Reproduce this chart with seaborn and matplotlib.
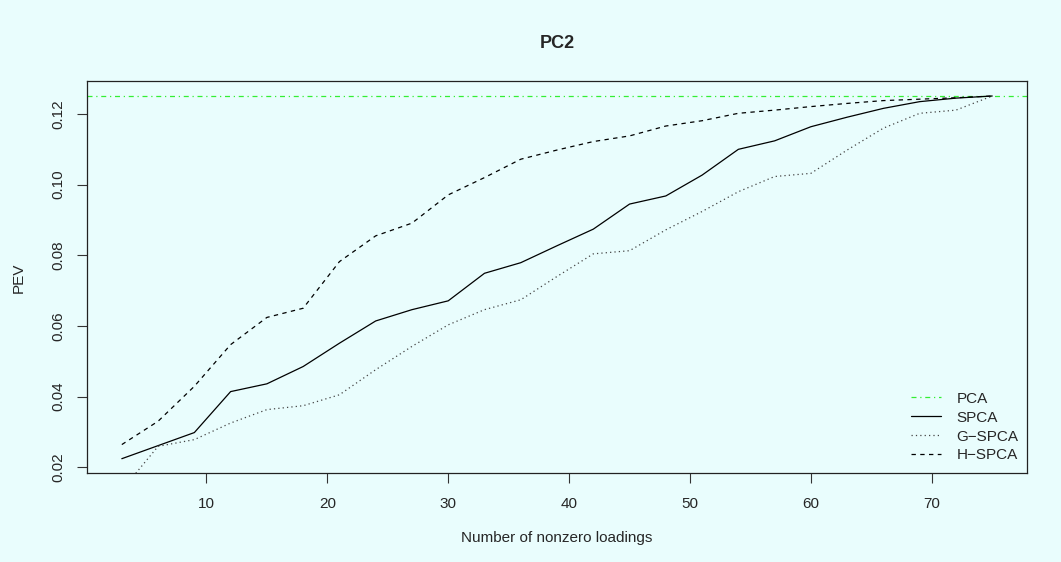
import matplotlib
matplotlib.use("Agg")
import matplotlib.pyplot as plt
import seaborn as sns
import pandas as pd

# number of nonzero loadings
loadings = list(range(3, 76, 3))

# proportion of explained variance per method
pca_pev = 0.125
spca = [0.0224, 0.0261, 0.0298, 0.0414, 0.0436, 0.0485, 0.0551, 0.0614, 0.0646,
        0.0671, 0.0749, 0.0779, 0.0827, 0.0874, 0.0945, 0.0968, 0.1027, 0.1100,
        0.1124, 0.1164, 0.1191, 0.1216, 0.1235, 0.1245, 0.1251]
gspca = [0.0135, 0.0259, 0.0278, 0.0325, 0.0363, 0.0374, 0.0405, 0.0476, 0.0542,
         0.0603, 0.0646, 0.0674, 0.0740, 0.0804, 0.0813, 0.0872, 0.0924, 0.0980,
         0.1023, 0.1032, 0.1098, 0.1160, 0.1202, 0.1211, 0.1251]
hspca = [0.0264, 0.0330, 0.0429, 0.0547, 0.0624, 0.0650, 0.0782, 0.0855, 0.0891,
         0.0971, 0.1020, 0.1072, 0.1098, 0.1122, 0.1138, 0.1166, 0.1181, 0.1202,
         0.1211, 0.1221, 0.1230, 0.1238, 0.1242, 0.1246, 0.1251]

yticks = [0.02, 0.04, 0.06, 0.08, 0.10, 0.12]
xticks = [10, 20, 30, 40, 50, 60, 70]

sns.set_style("ticks")
plt.rcParams["font.family"] = ["Liberation Sans", "DejaVu Sans"]

bg = "#E9FDFD"
fig = plt.figure(figsize=(10.61, 5.62), dpi=100, facecolor=bg)
ax = fig.add_axes([0.082, 0.158, 0.886, 0.697])
ax.set_facecolor(bg)

df = pd.DataFrame({"k": loadings, "SPCA": spca, "G-SPCA": gspca, "H-SPCA": hspca})

ax.axhline(pca_pev, color="#33EE33", lw=0.9, ls=(0, (4, 3, 1, 3)), label="PCA")
sns.lineplot(data=df, x="k", y="SPCA", ax=ax, color="black", lw=0.9, label="SPCA")
sns.lineplot(data=df, x="k", y="G-SPCA", ax=ax, color="#444444", lw=0.9,
             ls=(0, (1, 2.5)), label="G\u2212SPCA")
sns.lineplot(data=df, x="k", y="H-SPCA", ax=ax, color="black", lw=0.9,
             ls=(0, (3.5, 3.5)), label="H\u2212SPCA")

# R style 4% padding around the SPCA range
rng = max(spca) - min(spca)
ax.set_ylim(min(spca) - 0.04 * rng, max(spca) + 0.04 * rng)
xr = loadings[-1] - loadings[0]
ax.set_xlim(loadings[0] - 0.04 * xr, loadings[-1] + 0.04 * xr)

ax.set_xticks(xticks)
ax.set_yticks(yticks)
ax.set_yticklabels([f"{v:.2f}" for v in yticks], rotation=90, va="center")
ax.tick_params(axis="both", labelsize=11, length=7.2, width=0.8, color="#333333", pad=10)
ax.tick_params(axis="y", pad=8.5)

for s in ax.spines.values():
    s.set_linewidth(0.9)
    s.set_color("#222222")

ax.set_xlabel("Number of nonzero loadings", fontsize=11, labelpad=14)
ax.set_ylabel("PEV", fontsize=11, labelpad=18)
ax.set_title("PC2", fontsize=13, fontweight="bold", pad=24)

leg = ax.legend(loc="upper left", frameon=False, fontsize=11, handlelength=1.96,
                handletextpad=0.98, labelspacing=0.32, borderpad=0, borderaxespad=0,
                bbox_to_anchor=(0.877, 0.208))

fig.savefig("out.png", dpi=100, facecolor=bg)
